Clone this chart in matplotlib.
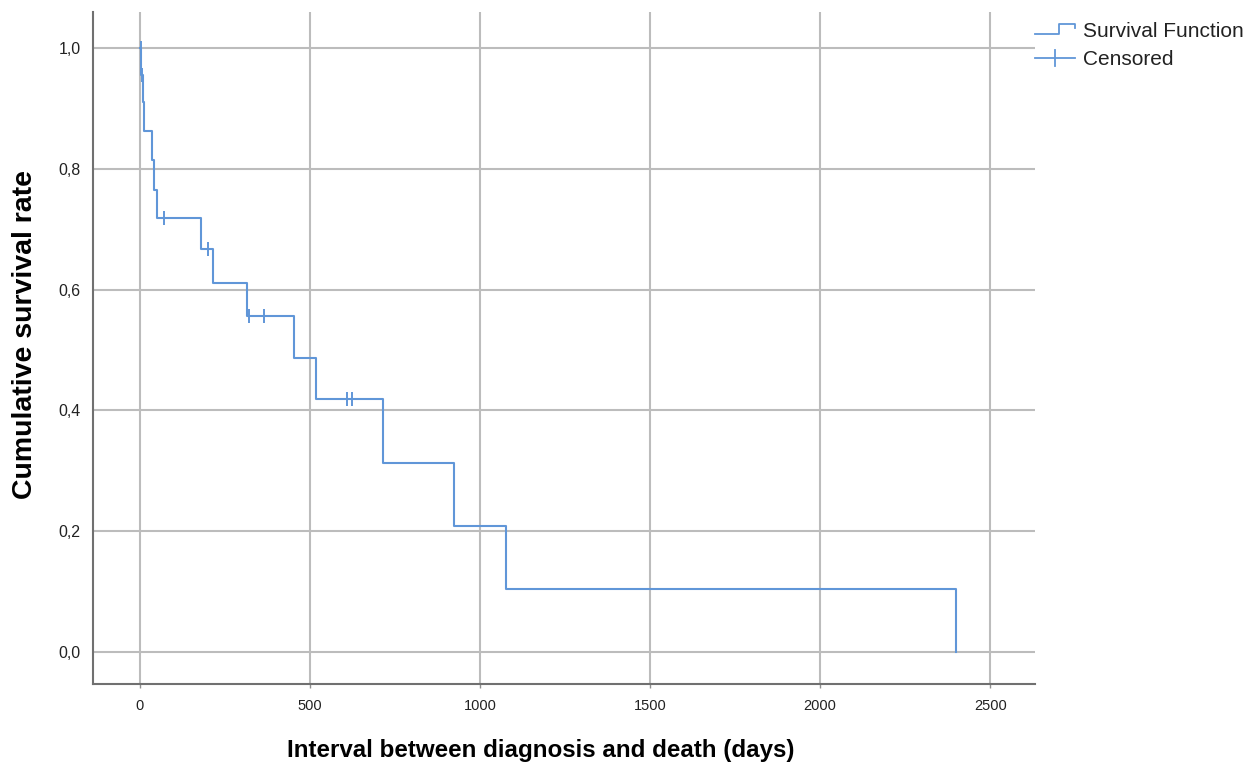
import matplotlib
matplotlib.use("Agg")
import matplotlib.pyplot as plt
from matplotlib.lines import Line2D
from matplotlib.legend_handler import HandlerBase

# Step data
event_times = [0, 4, 8, 13, 34, 42, 49, 179, 216, 314, 454, 518, 716, 923, 1075, 2400]
survival = [1.0, 0.955, 0.911, 0.863, 0.815, 0.766, 0.718, 0.667, 0.611, 0.557,
            0.487, 0.419, 0.313, 0.209, 0.104, 0.0]
censor_times = [2, 6, 71, 199, 321, 366, 608, 622]
censor_surv = [1.0, 0.955, 0.718, 0.667, 0.557, 0.557, 0.419, 0.419]

x_ticks = [0, 500, 1000, 1500, 2000, 2500]
y_ticks = [0.0, 0.2, 0.4, 0.6, 0.8, 1.0]
y_tick_labels = ["0,0", "0,2", "0,4", "0,6", "0,8", "1,0"]

LINE_COLOR = "#6096d8"
GRID_COLOR = "#bcbcbc"

plt.rcParams['font.family'] = ['Liberation Sans', 'DejaVu Sans']

fig = plt.figure(figsize=(12.49, 7.65), dpi=100)
ax = fig.add_axes([0.0745, 0.1059, 0.7542, 0.8781])

ax.step(event_times, survival, where='post', color=LINE_COLOR, lw=1.5, zorder=3)
ax.plot(censor_times, censor_surv, linestyle='none', marker='|', markersize=10,
        markeredgewidth=1.4, color=LINE_COLOR, zorder=4)

ax.set_xlim(-138, 2632)
ax.set_ylim(-0.053, 1.0596)
ax.set_xticks(x_ticks)
ax.set_xticklabels([str(t) for t in x_ticks])
ax.set_yticks(y_ticks)
ax.set_yticklabels(y_tick_labels)
ax.grid(True, color=GRID_COLOR, lw=1.5, zorder=0)
ax.set_axisbelow(True)

for s in ['top', 'right']:
    ax.spines[s].set_visible(False)
for s in ['left', 'bottom']:
    ax.spines[s].set_color('#707070')
    ax.spines[s].set_linewidth(1.5)

ax.tick_params(axis='x', labelsize=10.5, colors='#222222', length=3, width=1,
               pad=8)
ax.tick_params(axis='x', color='#909090')
ax.tick_params(axis='y', labelsize=11.5, colors='#222222', length=0, pad=9)

ax.set_xlabel("Interval between diagnosis and death (days)", fontsize=17.4,
              fontweight='bold')
ax.xaxis.set_label_coords(0.4756, -0.0985)
ax.set_ylabel("Cumulative survival rate", fontsize=20.5, fontweight='bold')
ax.yaxis.set_label_coords(-0.072, 0.521)
ax.yaxis.label.set_verticalalignment('center')
ax.xaxis.label.set_verticalalignment('center')


class StepHandler(HandlerBase):
    def create_artists(self, legend, orig_handle, xdescent, ydescent, width,
                       height, fontsize, trans):
        x0, x1 = -xdescent, -xdescent + width
        ym = -ydescent + height * 0.2
        yt = -ydescent + height * 0.9
        xs = [x0, x0 + width * 0.6, x0 + width * 0.6, x1, x1]
        ys = [ym, ym, yt, yt, yt - height * 0.3]
        l = Line2D(xs, ys, color=LINE_COLOR, lw=1.3, transform=trans)
        return [l]


class CensorHandler(HandlerBase):
    def create_artists(self, legend, orig_handle, xdescent, ydescent, width,
                       height, fontsize, trans):
        x0, x1 = -xdescent, -xdescent + width
        ym = -ydescent + height * 0.5
        l = Line2D([x0, x1], [ym, ym], color=LINE_COLOR, lw=1.3, transform=trans)
        v = Line2D([x0 + width * 0.5] * 2, [ym - height * 0.55, ym + height * 0.55],
                   color=LINE_COLOR, lw=1.3, transform=trans)
        return [l, v]


h1 = Line2D([], [])
h2 = Line2D([], [], marker='|')
leg = fig.legend([h1, h2], ["Survival Function", "Censored"],
                 handler_map={h1: StepHandler(), h2: CensorHandler()},
                 loc='upper left', bbox_to_anchor=(0.822, 0.982), frameon=False,
                 fontsize=15, handlelength=1.9, handletextpad=0.4,
                 labelspacing=0.42, borderaxespad=0)
for t in leg.get_texts():
    t.set_color('#222222')

fig.savefig("out.png", dpi=100)
